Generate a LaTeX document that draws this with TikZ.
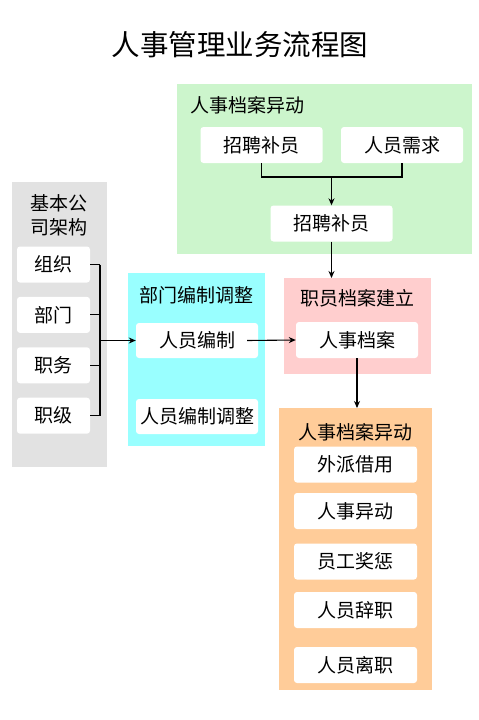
\documentclass[tikz,border=0pt]{standalone}
\usepackage{fontspec}
\setmainfont{Noto Sans CJK SC}
\usetikzlibrary{arrows.meta, positioning}
\definecolor{grpgreen}{RGB}{204,245,204}
\definecolor{grpgray}{RGB}{226,226,226}
\definecolor{grpcyan}{RGB}{153,255,255}
\definecolor{grppink}{RGB}{255,206,206}
\definecolor{grporange}{RGB}{255,204,153}

\begin{document}
\begin{tikzpicture}[
    x=1pt, y=-1pt,
    grp/.style={rectangle, anchor=north west, inner sep=0pt},
    item/.style={rectangle, fill=white, rounded corners=3pt, minimum width=122pt, minimum height=36pt, inner sep=0pt, font=\fontsize{19}{22}\selectfont},
    ttl/.style={inner sep=0pt, align=center, font=\fontsize{19}{24}\selectfont},
    lin/.style={line width=1.1pt},
    arr/.style={-{Stealth[length=7pt, width=6pt]}, line width=1.1pt}
]
\useasboundingbox (0,0) rectangle (479,720);

\node[font=\fontsize{28.5}{32}\selectfont, inner sep=0pt] (title) at (240,44.5) {人事管理业务流程图};

% group backgrounds
\node[grp, fill=grpgreen, minimum width=295pt, minimum height=170pt] (recruit) at (177,84) {};
\node[grp, fill=grpgray, minimum width=95pt, minimum height=285pt] (org) at (12,182) {};
\node[grp, fill=grpcyan, minimum width=137pt, minimum height=173pt] (quota) at (128,273) {};
\node[grp, fill=grppink, minimum width=147pt, minimum height=96pt] (file) at (284,278) {};
\node[grp, fill=grporange, minimum width=153pt, minimum height=282pt] (change) at (279,408) {};

% group titles
\node[ttl, anchor=west] (recruitT) at (190,105) {人事档案异动};
\node[ttl] (orgT) at (59,215) {基本公\\司架构};
\node[ttl] (quotaT) at (196.5,295) {部门编制调整};
\node[ttl] (fileT) at (357,298) {职员档案建立};
\node[ttl] (changeT) at (355.5,432) {人事档案异动};

% recruitment
\node[item] (fill1) at (261.5,145) {招聘补员};
\node[item] (need) at (402,145) {人员需求};
\node[item] (fill2) at (331.5,223.5) {招聘补员};

% company structure
\node[item, minimum width=73pt] (g1) at (53.5,264.5) {组织};
\node[item, minimum width=73pt, below=14pt of g1] (g2) {部门};
\node[item, minimum width=73pt, below=14pt of g2] (g3) {职务};
\node[item, minimum width=73pt, below=14pt of g3] (g4) {职级};

% staffing
\node[item, minimum height=35pt] (staff) at (197,340.5) {人员编制};
\node[item, minimum height=35pt] (adjust) at (197,416.5) {人员编制调整};

% staff file
\node[item] (hrfile) at (357,340) {人事档案};

% file changes
\node[item, minimum width=123pt] (c1) at (355.5,464.5) {外派借用};
\node[item, minimum width=123pt] (c2) at (355.5,511) {人事异动};
\node[item, minimum width=123pt] (c3) at (355.5,561.5) {员工奖惩};
\node[item, minimum width=123pt] (c4) at (355.5,610) {人员辞职};
\node[item, minimum width=123pt] (c5) at (355.5,665) {人员离职};

% connectors
\coordinate (join) at (331.5,177);
\draw[lin] (fill1.south) |- (join) -| (need.south);
\draw[arr] (join) -- (fill2.north);
\draw[arr] (fill2.south) -- (fill2.south |- file.north);

\coordinate (bus) at (100,340.5);
\foreach \i in {1,...,4}
    \draw[lin] (g\i.east) -- (g\i.east -| bus);
\draw[lin] (g1.east -| bus) -- (g4.east -| bus);
\draw[arr] (bus) -- (staff.west);

\draw[arr] ([xshift=-11pt]staff.east) -- (hrfile.west);
\draw[arr] (hrfile.south) -- (hrfile.south |- change.north);
\end{tikzpicture}
\end{document}
